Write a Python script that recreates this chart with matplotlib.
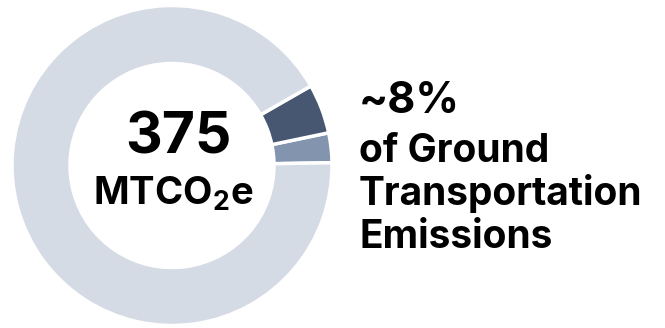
import matplotlib
matplotlib.use("Agg")
import matplotlib.pyplot as plt

# donut data (share of ground transportation emissions)
labels = ["Light", "Heavy", "Other"]
shares = [3, 5, 92]
colors = ["#8294ae", "#475771", "#d5dbe5"]

total_value = "375"
unit_label = "MTCO$_\\mathbf{2}$e"
pct_label = "~8%"
desc_lines = ["of Ground", "Transportation", "Emissions"]

W, H = 665, 328
plt.rcParams['font.family'] = ['Inter', 'DejaVu Sans']
plt.rcParams['mathtext.fontset'] = 'custom'
plt.rcParams['mathtext.bf'] = 'Inter:bold'
plt.rcParams['mathtext.rm'] = 'Inter:bold'

fig = plt.figure(figsize=(W / 100, H / 100), dpi=100)
ax = fig.add_axes([0, 0, 1, 1])
ax.set_xlim(0, W)
ax.set_ylim(0, H)
ax.set_aspect('equal')
ax.axis('off')

ax.pie(shares, colors=colors, startangle=1, counterclock=True,
       center=(172, H - 165.5), radius=160,
       wedgeprops=dict(width=58, edgecolor='white', linewidth=2.5))
ax.set_xlim(0, W)
ax.set_ylim(0, H)

txt = '#000000'
ax.text(178, H - 153, total_value, ha='center', va='baseline',
        fontsize=41, fontweight='bold', color=txt)
ax.text(173, H - 205, unit_label, ha='center', va='baseline',
        fontsize=27.5, fontweight='bold', color=txt)

ax.text(359, H - 113, pct_label, ha='left', va='baseline',
        fontsize=31, fontweight='bold', color=txt)
for line, base in zip(desc_lines, [162, 205, 248]):
    ax.text(359, H - base, line, ha='left', va='baseline',
            fontsize=28, fontweight='bold', color=txt)

fig.savefig('out.png', dpi=100)
